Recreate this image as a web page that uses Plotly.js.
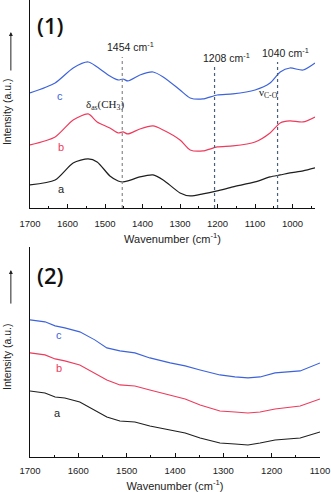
<!DOCTYPE html>
<html>
<head>
<meta charset="utf-8">
<script src="https://cdn.plot.ly/plotly-3.0.1.min.js"></script>
<style>
  html, body { margin: 0; padding: 0; background: #ffffff; }
  #chart { width: 331px; height: 492px; }
</style>
</head>
<body>
<div id="chart"></div>
<script>
//#region data
// panel (1)
const wave1 = [1700, 1633, 1585, 1545, 1521, 1487, 1465, 1452, 1439, 1407, 1372, 1345, 1300, 1273, 1239, 1201, 1159, 1100, 1060, 1033, 1007, 972, 940];
const spec1a = [23, 28, 45, 49, 46, 32, 27, 26, 27, 31, 33, 28, 15, 12, 14, 17, 21, 26, 31, 33, 35, 37, 40];
const spec1b = [63, 71, 88, 94, 86, 80, 75, 76, 74, 79, 82, 78, 68, 58, 57, 61, 62, 66, 75, 85, 87, 86, 91];
const spec1c = [115, 125, 140, 146, 141, 132, 128, 129, 127, 133, 136, 131, 118, 110, 109, 113, 114, 118, 125, 136, 140, 138, 145];

// panel (2)
const wave2 = [1700, 1669, 1648, 1628, 1597, 1566, 1541, 1514, 1483, 1452, 1410, 1379, 1348, 1307, 1276, 1249, 1224, 1193, 1141, 1100];
const spec2a = [66, 64, 60, 59, 55, 47, 40, 36, 35, 31, 27, 24, 19, 14, 13, 12, 14, 17, 19, 25];
const spec2b = [104, 102, 98, 96, 92, 84, 77, 72, 71, 67, 62, 58, 52, 46, 45, 44, 45, 48, 51, 58];
const spec2c = [137, 135, 131, 129, 125, 117, 109, 106, 104, 99, 94, 91, 87, 82, 80, 79, 80, 84, 86, 94];

const bandPos = [1454, 1208, 1040];
const bandTop = [151, 141, 146];
const bandLabels = ['1454 cm<sup>-1</sup>', '1208 cm<sup>-1</sup>', '1040 cm<sup>-1</sup>'];
const bandLabelX = [1433, 1175, 1020];
const bandLabelY = [161, 150, 155];

const tickVals1 = [1700, 1600, 1500, 1400, 1300, 1200, 1100, 1000];
const tickVals2 = [1700, 1600, 1500, 1400, 1300, 1200, 1100];
//#endregion

//#region styles
const colA = '#1e1e1e', colB = '#ee3a5c', colC = '#3d63db';
const sans = 'Liberation Sans, Arial, sans-serif';
const serif = 'Liberation Serif, Times New Roman, serif';
//#endregion

//#region traces
function spec(x, y, color, xa, ya) {
    return { x: x, y: y, xaxis: xa, yaxis: ya, type: 'scatter', mode: 'lines', line: { color: color, width: 1.2, shape: 'spline', smoothing: 0.7 }, hoverinfo: 'none' };
}
function noisy(x, y, color) {
    return { x: x, y: y, xaxis: 'x2', yaxis: 'y2', type: 'scatter', mode: 'lines', line: { color: color, width: 1.1 }, hoverinfo: 'none' };
}
const traces = [
    spec(wave1, spec1a, colA, 'x', 'y'),
    spec(wave1, spec1b, colB, 'x', 'y'),
    spec(wave1, spec1c, colC, 'x', 'y'),
    noisy(wave2, spec2a, colA),
    noisy(wave2, spec2b, colB),
    noisy(wave2, spec2c, colC)
];
//#endregion

//#region annotations and shapes
const shapes = bandPos.map((w, i) => ({
    type: 'line', xref: 'x', yref: 'y', x0: w, x1: w, y0: 0, y1: bandTop[i],
    line: { color: i === 0 ? '#8a8a8a' : '#4a5f78', width: 1.2, dash: 'dot' }
}));

function txt(x, y, text, xref, yref, size, color, family) {
    return { x: x, y: y, xref: xref, yref: yref, text: text, showarrow: false, xanchor: 'center', yanchor: 'middle', font: { size: size, color: color, family: family || sans } };
}
const panelNo1 = txt(0.069, 0.945, '(1)', 'paper', 'paper', 22, '#111', 'Open Sans, Liberation Sans, sans-serif');
const panelNo2 = txt(0.069, 0.398, '(2)', 'paper', 'paper', 22, '#111', 'Open Sans, Liberation Sans, sans-serif');
panelNo1.font.weight = 600;
panelNo2.font.weight = 600;

const annotations = [
    panelNo1, panelNo2,
    txt(1620, 112, 'c', 'x', 'y', 11, colC),
    txt(1617, 61, 'b', 'x', 'y', 11, colB),
    txt(1617, 19, 'a', 'x', 'y', 11, colA),
    txt(1640, 122, 'c', 'x2', 'y2', 11, colC),
    txt(1640, 89, 'b', 'x2', 'y2', 11, colB),
    txt(1644, 44, 'a', 'x2', 'y2', 11, colA),
    txt(1500, 103, 'δ<sub>as</sub>(CH<sub>3</sub>)', 'x', 'y', 11, '#222', serif),
    txt(1063, 115, 'ν<sub>C-O</sub>', 'x', 'y', 11, '#222', serif)
];
bandPos.forEach((w, i) => {
    annotations.push(txt(bandLabelX[i], bandLabelY[i], bandLabels[i], 'x', 'y', 10.5, '#222'));
});

// rotated y titles with arrows
[[0.755, 0.930, 40], [0.219, 0.409, 35]].forEach(p => {
    const t = txt(-0.079, p[0], 'Intensity (a.u.)', 'paper', 'paper', 10.5, '#222');
    t.textangle = -90;
    annotations.push(t);
    annotations.push({ x: -0.066, y: p[1], xref: 'paper', yref: 'paper', text: '', showarrow: true, ax: 0, ay: p[2], arrowhead: 2, arrowsize: 0.8, arrowwidth: 1, arrowcolor: '#222' });
});
//#endregion

//#region layout
function xAxis(domain, range, ticks, anchor, labelGap) {
    return {
        domain: domain, range: range, anchor: anchor, autorange: false,
        tickmode: 'array', tickvals: ticks, ticks: 'inside', ticklen: 4, tickcolor: '#111',
        minor: { dtick: 50, ticks: 'inside', ticklen: 2, tickcolor: '#111' },
        showline: true, linecolor: '#111', linewidth: 1, showgrid: false, zeroline: false,
        tickfont: { size: 9.5, color: '#222', family: sans }, ticklabelstandoff: labelGap,
        title: { text: 'Wavenumber (cm<sup>-1</sup>)', font: { size: 11, color: '#222', family: sans }, standoff: 6 }
    };
}
function yAxis(domain, range, anchor) {
    return { domain: domain, range: range, anchor: anchor, showline: true, linecolor: '#111', linewidth: 1, showgrid: false, zeroline: false, showticklabels: false, ticks: '' };
}

const layout = {
    width: 331, height: 492,
    paper_bgcolor: '#ffffff', plot_bgcolor: '#ffffff',
    margin: { l: 30, r: 11, t: 0, b: 35 },
    showlegend: false,
    xaxis: xAxis([0, 0.983], [1700, 940], tickVals1, 'y', 7),
    yaxis: yAxis([0.545, 1], [0, 208], 'x'),
    xaxis2: xAxis([0, 1], [1700, 1100], tickVals2, 'y2', 5),
    yaxis2: yAxis([0, 0.46], [0, 210], 'x2'),
    shapes: shapes,
    annotations: annotations
};
//#endregion

Plotly.newPlot('chart', traces, layout, { staticPlot: true });
</script>
</body>
</html>
